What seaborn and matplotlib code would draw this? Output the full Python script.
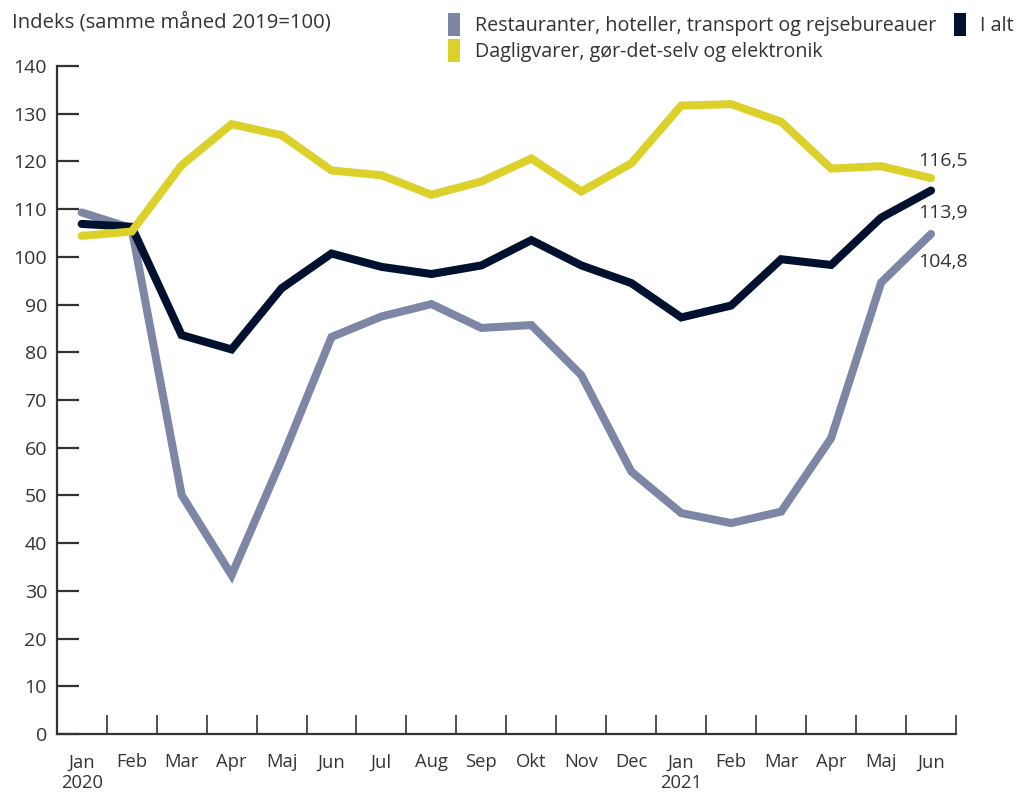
import numpy as np
import pandas as pd
import matplotlib
matplotlib.use("Agg")
import matplotlib.pyplot as plt
from matplotlib.patches import Patch
import seaborn as sns

months = ["Jan\n2020", "Feb", "Mar", "Apr", "Maj", "Jun", "Jul", "Aug", "Sep", "Okt",
          "Nov", "Dec", "Jan\n2021", "Feb", "Mar", "Apr", "Maj", "Jun"]

restaurant = [109.3, 106.0, 50.1, 33.3, 57.5, 83.2, 87.5, 90.1, 85.1, 85.7,
              75.2, 55.0, 46.3, 44.2, 46.6, 62.0, 94.6, 104.8]
i_alt = [106.9, 106.3, 83.6, 80.6, 93.4, 100.7, 97.9, 96.4, 98.2, 103.5,
         98.2, 94.5, 87.3, 89.8, 99.5, 98.3, 108.2, 113.9]
dagligvarer = [104.4, 105.3, 119.2, 127.8, 125.5, 118.1, 117.1, 113.0, 115.8, 120.6,
               113.7, 119.6, 131.7, 132.0, 128.3, 118.5, 119.0, 116.5]

names = ["Restauranter, hoteller, transport og rejsebureauer",
         "Dagligvarer, gør-det-selv og elektronik",
         "I alt"]
colors = {names[0]: "#7d86a5", names[1]: "#dcd12a", names[2]: "#00112f"}
end_labels = ["104,8", "116,5", "113,9"]

x = np.arange(len(months))
df = pd.concat([
    pd.DataFrame({"x": x, "v": restaurant, "s": names[0]}),
    pd.DataFrame({"x": x, "v": i_alt, "s": names[2]}),
    pd.DataFrame({"x": x, "v": dagligvarer, "s": names[1]}),
])

sns.set_style("white")
plt.rcParams["font.family"] = ["Open Sans", "DejaVu Sans"]
txt = "#333333"

fig = plt.figure(figsize=(10.27, 7.93), dpi=100)
ax = fig.add_axes([0.0552, 0.0744, 0.8757, 0.8424])

for nm in [names[0], names[2], names[1]]:
    sns.lineplot(data=df[df["s"] == nm], x="x", y="v", color=colors[nm],
                 linewidth=5.8, ax=ax, legend=False, solid_joinstyle="miter")

ax.set_xlim(-0.5, 17.5)
ax.set_ylim(0, 140)
ax.set_yticks(np.arange(0, 141, 10))
ax.set_xticks(x)
ax.set_xticklabels(months)
ax.set_xticks(np.arange(0.5, 17.6, 1), minor=True)
ax.set_xlabel("")
ax.set_ylabel("")

for side in ["top", "right"]:
    ax.spines[side].set_visible(False)
for side in ["left", "bottom"]:
    ax.spines[side].set_linewidth(1.6)
    ax.spines[side].set_color(txt)

ax.tick_params(axis="y", direction="in", length=16, width=1.6, color=txt,
               labelsize=14, labelcolor=txt, pad=7, left=True)
ax.tick_params(axis="x", which="major", length=0, labelsize=13.2, labelcolor=txt, pad=14)
ax.tick_params(axis="x", which="minor", direction="in", length=14, width=1.2,
               color=txt, bottom=True)
ax.grid(False)

# end labels
offsets = {names[0]: (-13, -28), names[1]: (-13, 17), names[2]: (-13, -22)}
finals = {names[0]: restaurant[-1], names[1]: dagligvarer[-1], names[2]: i_alt[-1]}
for nm, lab in zip(names, end_labels):
    ax.annotate(lab, xy=(x[-1], finals[nm]), xytext=offsets[nm],
                textcoords="offset pixels", ha="left", va="center",
                fontsize=14, color=txt)

fig.text(0.012, 0.972, "Indeks (samme måned 2019=100)", fontsize=14.6,
         color=txt, ha="left", va="center")

handles = [Patch(facecolor=colors[n], edgecolor="none", label=n) for n in names]
leg = fig.legend(handles=handles, ncol=2, loc="upper left",
                 bbox_to_anchor=(0.419, 1.006), frameon=False,
                 fontsize=14.2, handlelength=0.6, handleheight=1.4,
                 handletextpad=0.75, columnspacing=0.9, labelspacing=0.17,
                 labelcolor=txt)

fig.savefig("out.png", dpi=100)
